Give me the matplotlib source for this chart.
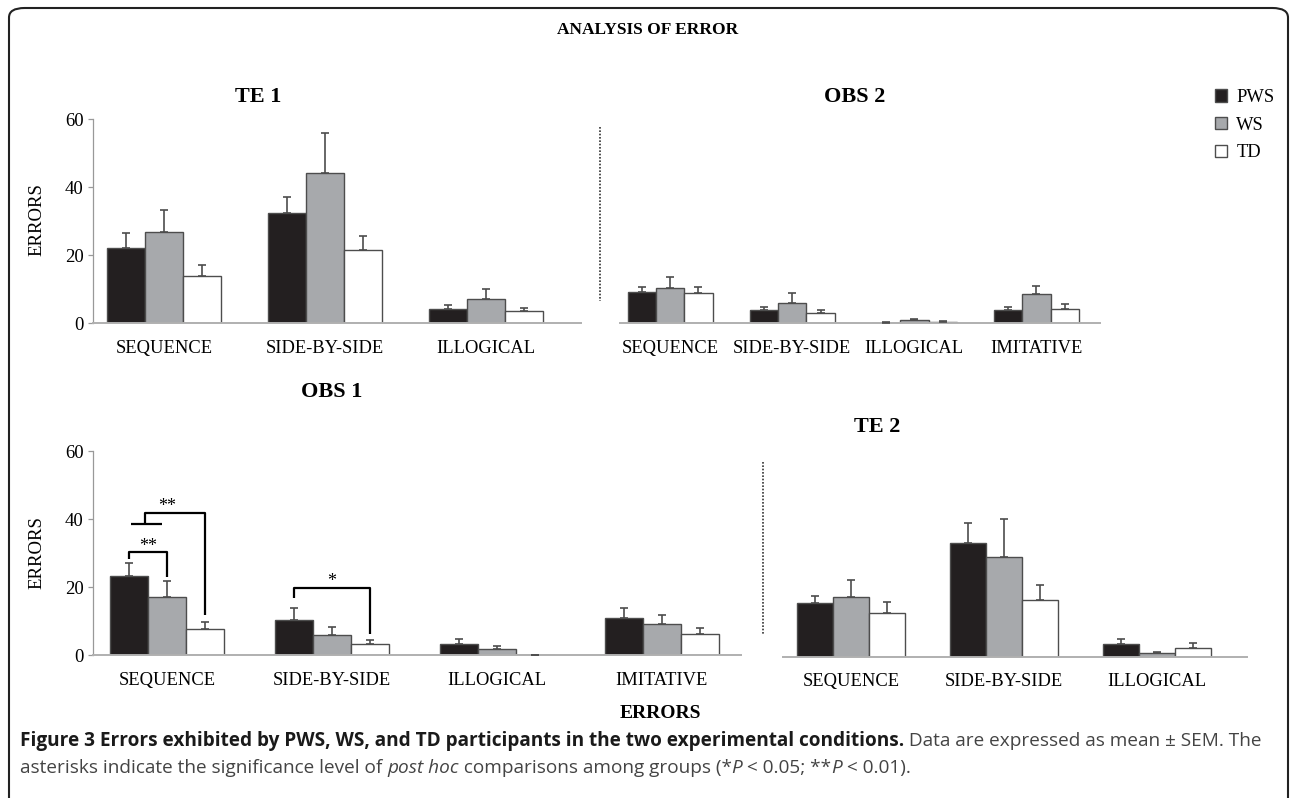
import matplotlib.pyplot as plt
from matplotlib.patches import Patch, FancyBboxPatch
from matplotlib.lines import Line2D
from matplotlib import font_manager
import numpy as np

W, H = 1292, 798

groups = ['PWS', 'WS', 'TD']
colors = ['#231f20', '#a7a9ac', '#ffffff']

# TE 1
te1_cats = ['SEQUENCE', 'SIDE-BY-SIDE', 'ILLOGICAL']
te1_pws = [22.1, 32.5, 4.2]
te1_ws = [26.7, 44.0, 7.0]
te1_td = [13.9, 21.5, 3.4]
te1_pws_sem = [4.3, 4.6, 1.0]
te1_ws_sem = [6.4, 12.0, 2.9]
te1_td_sem = [3.3, 4.0, 1.0]

# OBS 2
obs2_cats = ['SEQUENCE', 'SIDE-BY-SIDE', 'ILLOGICAL', 'IMITATIVE']
obs2_pws = [9.2, 3.7, 0.0, 3.7]
obs2_ws = [10.2, 5.9, 0.8, 8.4]
obs2_td = [8.8, 2.9, 0.4, 4.0]
obs2_pws_sem = [1.3, 1.1, 0.3, 1.1]
obs2_ws_sem = [3.2, 2.9, 0.3, 2.6]
obs2_td_sem = [1.7, 1.0, 0.1, 1.5]

# OBS 1
obs1_cats = ['SEQUENCE', 'SIDE-BY-SIDE', 'ILLOGICAL', 'IMITATIVE']
obs1_pws = [23.4, 10.4, 3.4, 11.0]
obs1_ws = [17.2, 5.9, 1.9, 9.2]
obs1_td = [7.7, 3.4, 0.0, 6.3]
obs1_pws_sem = [3.6, 3.5, 1.5, 2.9]
obs1_ws_sem = [4.6, 2.5, 0.7, 2.5]
obs1_td_sem = [2.2, 1.1, 0.2, 1.8]

# TE 2
te2_cats = ['SEQUENCE', 'SIDE-BY-SIDE', 'ILLOGICAL']
te2_pws = [15.8, 33.5, 3.7]
te2_ws = [17.5, 29.2, 1.2]
te2_td = [12.8, 16.8, 2.6]
te2_pws_sem = [2.1, 5.7, 1.4]
te2_ws_sem = [5.1, 11.4, 0.1]
te2_td_sem = [3.2, 4.4, 1.4]

SERIF = 'Liberation Serif'
plt.rcParams['font.family'] = SERIF

fig = plt.figure(figsize=(W / 100, H / 100), dpi=100)


def px_axes(x0, x1, ytop, ybot):
    return fig.add_axes([x0 / W, 1 - ybot / H, (x1 - x0) / W, (ybot - ytop) / H])


def panel(ax, cats, means, sems, xlim, width, yaxis=True):
    x = np.arange(len(cats))
    for k in range(3):
        m = np.array(means[k])
        s = np.array(sems[k])
        ax.bar(x + (k - 1) * width, m, width, color=colors[k], edgecolor='#4d4d4d',
               linewidth=1.0, zorder=2)
        ax.errorbar(x + (k - 1) * width, m, yerr=[np.zeros_like(s), s], fmt='none',
                    ecolor='#4d4d4d', elinewidth=1.2, capsize=3, capthick=1.2, zorder=3)
    ax.set_xlim(*xlim)
    ax.set_ylim(0, 60)
    ax.set_xticks(x)
    ax.set_xticklabels(cats, fontsize=13.3)
    ax.tick_params(axis='x', length=0, pad=12)
    for sp in ['top', 'right']:
        ax.spines[sp].set_visible(False)
    ax.spines['bottom'].set_color('#b0b0b0')
    ax.spines['bottom'].set_linewidth(1.4)
    if yaxis:
        ax.spines['left'].set_color('#999999')
        ax.spines['left'].set_linewidth(0.9)
        ax.spines['left'].set_bounds(0, 60)
        ax.set_yticks([0, 20, 40, 60])
        ax.tick_params(axis='y', length=3.6, width=0.9, color='#999999', pad=3,
                       labelsize=13.5)
    else:
        ax.spines['left'].set_visible(False)
        ax.set_yticks([])
    ax.patch.set_alpha(0)


ax_te1 = px_axes(93, 581, 119, 323)
panel(ax_te1, te1_cats, [te1_pws, te1_ws, te1_td], [te1_pws_sem, te1_ws_sem, te1_td_sem],
      (-0.441, 2.59), 0.234)

ax_obs2 = px_axes(620, 1100, 119, 323)
panel(ax_obs2, obs2_cats, [obs2_pws, obs2_ws, obs2_td], [obs2_pws_sem, obs2_ws_sem, obs2_td_sem],
      (-0.41, 3.52), 0.232, yaxis=False)

ax_obs1 = px_axes(93, 741, 451, 655.3)
panel(ax_obs1, obs1_cats, [obs1_pws, obs1_ws, obs1_td], [obs1_pws_sem, obs1_ws_sem, obs1_td_sem],
      (-0.45, 3.48), 0.23)

ax_te2 = px_axes(783, 1247, 452.7, 656.7)
panel(ax_te2, te2_cats, [te2_pws, te2_ws, te2_td], [te2_pws_sem, te2_ws_sem, te2_td_sem],
      (-0.446, 2.586), 0.235, yaxis=False)

# significance brackets on OBS 1
w = 0.23
bk = dict(color='black', lw=1.6, clip_on=False, zorder=4, solid_capstyle='butt')
xb, xg, xw = -w, 0, w
ax_obs1.plot([xb, xb, xg, xg], [28.2, 30.2, 30.2, 23.1], **bk)
ax_obs1.text((xb + xg) / 2, 30.6, '**', ha='center', va='baseline', fontsize=13)
mid = (xb + xg) / 2
ax_obs1.plot([xb + 0.01, xg - 0.03], [38.6, 38.6], **bk)
ax_obs1.plot([mid - 0.02, mid - 0.02, xw, xw], [38.6, 41.9, 41.9, 11.8], **bk)
ax_obs1.text(xg, 42.4, '**', ha='center', va='baseline', fontsize=13)
ax_obs1.plot([1 + xb, 1 + xb, 1 + xw, 1 + xw], [16.9, 19.9, 19.9, 6.2], **bk)
ax_obs1.text(1, 20.4, '*', ha='center', va='baseline', fontsize=13)

# titles and labels
fig.text(648 / W, 1 - 30 / H, 'ANALYSIS OF ERROR', ha='center', va='center',
         fontsize=12.5, weight='bold')
for txt, xp, yp in [('TE 1', 258, 97), ('OBS 2', 855, 97), ('OBS 1', 332, 392), ('TE 2', 877, 427)]:
    fig.text(xp / W, 1 - yp / H, txt, ha='center', va='center', fontsize=16, weight='bold')
fig.text(37 / W, 1 - 220 / H, 'ERRORS', rotation=90, ha='center', va='center', fontsize=13.5)
fig.text(37 / W, 1 - 553 / H, 'ERRORS', rotation=90, ha='center', va='center', fontsize=13.5)
fig.text(660 / W, 1 - 714 / H, 'ERRORS', ha='center', va='center', fontsize=14, weight='bold')

# legend
handles = [Patch(facecolor=c, edgecolor='#4d4d4d', linewidth=1.0) for c in colors]
fig.legend(handles, groups, loc='upper left', bbox_to_anchor=(1215 / W, 1 - 89 / H),
           frameon=False, fontsize=13.3, handlelength=0.65, handleheight=0.65,
           handletextpad=0.5, labelspacing=0.58, borderpad=0, borderaxespad=0)

# dotted dividers
fig.add_artist(Line2D([600 / W, 600 / W], [1 - 127 / H, 1 - 301 / H], color='#333333',
                      lw=1.2, linestyle=(0, (1, 1))))
fig.add_artist(Line2D([763 / W, 763 / W], [1 - 462 / H, 1 - 635 / H], color='#333333',
                      lw=1.2, linestyle=(0, (1, 1))))

# outer frame (open at the bottom)
fig.add_artist(FancyBboxPatch((9 / W, -0.05), (1279 / W), 1 - 8 / H + 0.05,
                              boxstyle='round,pad=0,rounding_size=0.012',
                              transform=fig.transFigure, facecolor='none',
                              edgecolor='#222222', lw=1.5, clip_on=False))

# caption
CAP = 'Open Sans'
try:
    font_manager.findfont('Liberation Sans Narrow', fallback_to_default=False)
    CAP = 'Liberation Sans Narrow'
except Exception:
    pass
r = fig.canvas.get_renderer()


def run_width(txt, size, weight, style):
    a = fig.text(0, 0, 'I' + txt + 'I', fontsize=size, weight=weight, style=style, family=CAP)
    b = fig.text(0, 0, 'II', fontsize=size, weight=weight, style=style, family=CAP)
    wd = a.get_window_extent(r).width - b.get_window_extent(r).width
    a.remove()
    b.remove()
    return wd


line1 = [('Figure 3 Errors exhibited by PWS, WS, and TD participants in the two experimental conditions.', 'bold', 'normal'),
         (' Data are expressed as mean \u00b1 SEM. The', 'normal', 'normal')]
line2 = [('asterisks indicate the significance level of ', 'normal', 'normal'),
         ('post hoc', 'normal', 'italic'),
         (' comparisons among groups (*', 'normal', 'normal'),
         ('P', 'normal', 'italic'),
         (' < 0.05; **', 'normal', 'normal'),
         ('P', 'normal', 'italic'),
         (' < 0.01).', 'normal', 'normal')]

base = 10
tot = sum(run_width(t, base, wt, st) for t, wt, st in line1)
cap_size = base * (1262 - 20) / tot


def put_line(runs, x0, yp):
    x = x0
    for t, wt, st in runs:
        col = '#1a1a1a' if wt == 'bold' else '#444444'
        fig.text(x / W, 1 - yp / H, t, fontsize=cap_size, weight=wt, style=st, family=CAP,
                 ha='left', va='center', color=col)
        x += run_width(t, cap_size, wt, st)


put_line(line1, 20, 741)
put_line(line2, 20, 768)

fig.savefig('out.png', dpi=100)
